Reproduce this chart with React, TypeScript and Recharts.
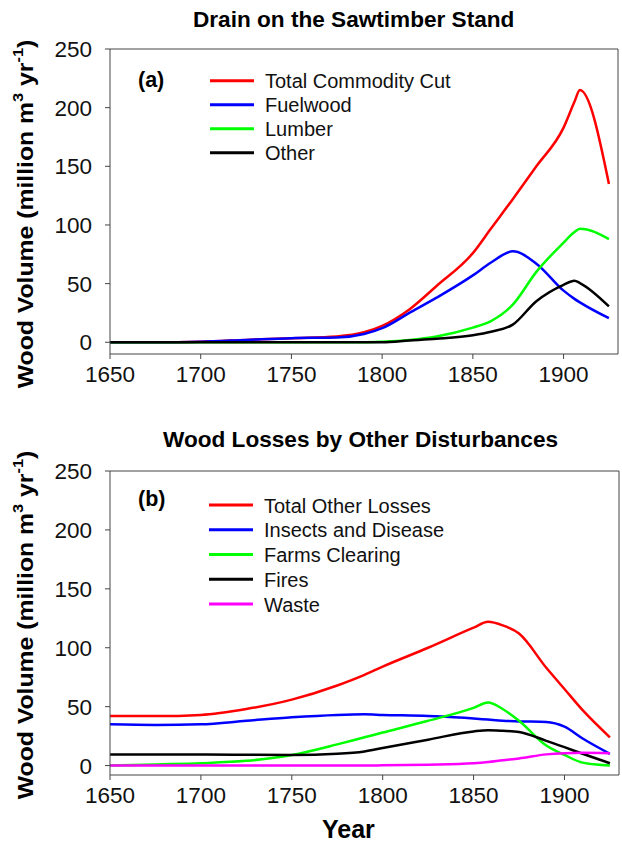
import React from "react";
import { LineChart, Line, XAxis, YAxis, ReferenceLine } from "recharts";

// ---- Panel (a): Drain on the Sawtimber Stand ----
const topYears = [1650, 1675, 1700, 1725, 1750, 1775, 1790, 1800, 1815, 1830, 1850, 1860, 1872, 1885, 1900, 1906, 1909, 1925];
const totalCommodityCut = [0, 0, 0.5, 2, 3.5, 5, 8.5, 14, 28, 48, 76, 97, 122, 150, 183, 205, 215, 135];
const fuelwood = [0, 0, 0.5, 2, 3.5, 4, 7, 12, 25, 38, 57, 68, 77.5, 67, 44, 37, 34, 20.5];
const lumber = [0, 0, 0, 0, 0, 0, 0, 0.5, 2, 5, 12.5, 18, 32, 60, 85, 94, 96.8, 88];
const other = [0, 0, 0, 0, 0, 0, 0, 0, 1.5, 3, 6, 9, 15, 35, 49, 52.5, 50.5, 30.6];

// ---- Panel (b): Wood Losses by Other Disturbances ----
const bottomYears = [1650, 1675, 1700, 1725, 1750, 1775, 1790, 1800, 1825, 1850, 1858, 1866, 1875, 1890, 1900, 1910, 1925];
const totalOtherLosses = [42, 42, 43, 48, 56, 68, 77, 84, 100, 117, 122, 119, 112, 83, 65, 47, 24];
const insectsDisease = [35, 34.5, 35, 38, 41, 43, 43.5, 43, 42, 40, 39, 38, 37.5, 37, 33, 23, 10];
const farmsClearing = [0, 1, 2, 4, 9, 18, 24, 28, 38, 49, 53.5, 48, 38, 17, 9, 2.5, 0];
const fires = [9.5, 9.5, 9.5, 9.2, 9, 10, 12, 15, 22, 29, 30, 29.5, 28.5, 21, 15.6, 10, 2];
const waste = [0, 0, 0, 0, 0, 0, 0, 0.2, 0.8, 2, 3, 4.5, 6, 9.5, 10.5, 10.8, 10.5];

const xTicks = [1650, 1700, 1750, 1800, 1850, 1900];
const yTicks = [0, 50, 100, 150, 200, 250];

const topSeries = [
  { key: "total", name: "Total Commodity Cut", color: "#ff0000", values: totalCommodityCut },
  { key: "fuel", name: "Fuelwood", color: "#0000ff", values: fuelwood },
  { key: "lumber", name: "Lumber", color: "#00ff00", values: lumber },
  { key: "other", name: "Other", color: "#000000", values: other },
];
const bottomSeries = [
  { key: "total", name: "Total Other Losses", color: "#ff0000", values: totalOtherLosses },
  { key: "insects", name: "Insects and Disease", color: "#0000ff", values: insectsDisease },
  { key: "farms", name: "Farms Clearing", color: "#00ff00", values: farmsClearing },
  { key: "fires", name: "Fires", color: "#000000", values: fires },
  { key: "waste", name: "Waste", color: "#ff00ff", values: waste },
];

const buildRows = (years: number[], series: { key: string; values: number[] }[]) =>
  years.map((year, i) => {
    const row: Record<string, number> = { year };
    series.forEach((s) => {
      row[s.key] = s.values[i];
    });
    return row;
  });

const topData = buildRows(topYears, topSeries);
const bottomData = buildRows(bottomYears, bottomSeries);

const FONT = "'Liberation Sans', Arial, Helvetica, sans-serif";
const AXIS = "#444";
const tickStyle = { fill: "#111", fontSize: 22.5, fontFamily: FONT };

function Panel({
  data,
  series,
  yMin,
  height,
  margin,
}: {
  data: Record<string, number>[];
  series: { key: string; name: string; color: string }[];
  yMin: number;
  height: number;
  margin: { top: number; right: number; bottom: number; left: number };
}) {
  return (
    <LineChart width={622} height={height} data={data} margin={margin}>
      <XAxis
        dataKey="year"
        type="number"
        domain={[1650, 1930]}
        ticks={xTicks}
        allowDataOverflow
        height={40}
        tickSize={5}
        tickMargin={7}
        stroke={AXIS}
        tick={tickStyle}
        tickLine={{ stroke: AXIS }}
      />
      <YAxis
        type="number"
        domain={[yMin, 250]}
        ticks={yTicks}
        allowDataOverflow
        width={110}
        tickSize={5}
        tickMargin={13}
        stroke={AXIS}
        tick={tickStyle}
        tickLine={{ stroke: AXIS }}
      />
      <ReferenceLine y={250} stroke={AXIS} strokeWidth={1} ifOverflow="extendDomain" />
      <ReferenceLine x={1930} stroke={AXIS} strokeWidth={1} ifOverflow="extendDomain" />
      {series.map((s) => (
        <Line
          key={s.key}
          dataKey={s.key}
          name={s.name}
          type="monotone"
          stroke={s.color}
          strokeWidth={2.5}
          dot={false}
          activeDot={false}
          isAnimationActive={false}
        />
      ))}
    </LineChart>
  );
}

function LegendBlock({
  series,
  x,
  y,
  step,
}: {
  series: { name: string; color: string }[];
  x: number;
  y: number;
  step: number;
}) {
  return (
    <g>
      {series.map((s, i) => (
        <g key={s.name}>
          <line x1={x} x2={x + 44} y1={y + i * step} y2={y + i * step} stroke={s.color} strokeWidth={3} />
          <text x={x + 55} y={y + i * step + 7.5} fontSize={20} fontFamily={FONT} fill="#111">
            {s.name}
          </text>
        </g>
      ))}
    </g>
  );
}

function YLabel({ cx, cy }: { cx: number; cy: number }) {
  return (
    <text
      transform={`translate(${cx},${cy}) rotate(-90) scale(1.1,1)`}
      textAnchor="middle"
      fontSize={22.5}
      fontWeight="bold"
      fontFamily={FONT}
      fill="#000"
    >
      Wood Volume (million m
      <tspan fontSize={15} dy={-10}>3</tspan>
      <tspan dy={10}> yr</tspan>
      <tspan fontSize={15} dy={-10}>-1</tspan>
      <tspan dy={10}>)</tspan>
    </text>
  );
}

export default function App() {
  return (
    <div
      style={{
        position: "absolute",
        left: 0,
        top: 0,
        width: 622,
        height: 842,
        background: "#fff",
        fontFamily: FONT,
      }}
    >
      <div style={{ position: "absolute", left: 0, top: 0 }}>
        <Panel data={topData} series={topSeries} yMin={-10} height={420} margin={{ top: 49, right: 4, bottom: 26, left: 0 }} />
      </div>
      <div style={{ position: "absolute", left: 0, top: 420 }}>
        <Panel data={bottomData} series={bottomSeries} yMin={-8} height={422} margin={{ top: 51, right: 3, bottom: 27, left: 0 }} />
      </div>
      <svg
        width={622}
        height={842}
        style={{ position: "absolute", left: 0, top: 0, pointerEvents: "none" }}
      >
        <text x={193} y={27} fontSize={22.6} fontWeight="bold" fontFamily={FONT} fill="#000">
          Drain on the Sawtimber Stand
        </text>
        <text x={163} y={447} fontSize={22.6} fontWeight="bold" fontFamily={FONT} fill="#000">
          Wood Losses by Other Disturbances
        </text>
        <text x={138} y={87} fontSize={21.5} fontWeight="bold" fontFamily={FONT} fill="#000">
          (a)
        </text>
        <text x={138} y={506} fontSize={21.5} fontWeight="bold" fontFamily={FONT} fill="#000">
          (b)
        </text>
        <LegendBlock series={topSeries} x={210} y={80.7} step={24} />
        <LegendBlock series={bottomSeries} x={209} y={505} step={24.75} />
        <YLabel cx={33} cy={214} />
        <YLabel cx={33} cy={625} />
        <text x={322} y={838} fontSize={25} fontWeight="bold" fontFamily={FONT} fill="#000">
          Year
        </text>
      </svg>
    </div>
  );
}
